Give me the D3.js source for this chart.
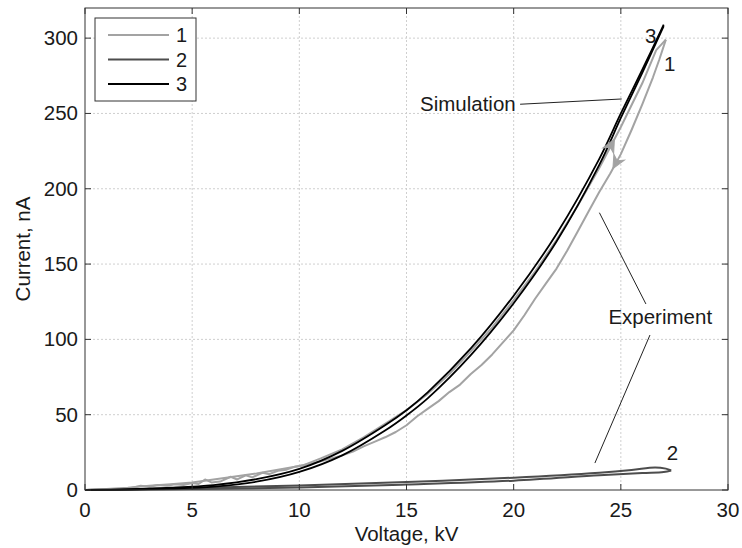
<!DOCTYPE html>
<html>
<head>
<meta charset="utf-8">
<script src="https://cdn.jsdelivr.net/npm/d3@7"></script>
<style>
  html, body { margin: 0; padding: 0; background: #fff; }
  svg text { font-family: "Liberation Sans", Arial, sans-serif; fill: #1a1a1a; }
</style>
</head>
<body>
<svg id="chart" width="742" height="548"></svg>
<script>
// ---- data ----
const xTicks = [0, 5, 10, 15, 20, 25, 30];
const yTicks = [0, 50, 100, 150, 200, 250, 300];

// curve 1: experiment, rising sweep [kV, nA]
const exp1Up = [[0,0],[1,0.3],[2,0.8],[2.6,2.8],[3,2.2],[3.4,3.3],[3.8,2.8],[4.2,3.8],[4.6,3.3],[5,4.6],
  [5.3,4.0],[5.6,7.0],[5.9,5.0],[6.3,5.6],[6.8,8.8],[7.1,7.0],[7.5,9.8],[7.8,8.4],[8.3,11.5],[8.6,10.5],
  [9,12.8],[9.4,13.5],[9.8,15.5],[10.2,16.5],[11,21],[12,27],[13,35],[14,44],[15,53],[16,64],[17,77],
  [18,92],[19,108],[20,126],[21,145],[22,166],[23,189],[24,214],[25,241],[26,270],[26.65,292],[27.1,299]];
// curve 1: experiment, falling sweep
const exp1Down = [[27.1,299],[26.8,286],[26.5,274],[26,256],[25.5,239],[25,223],[24.5,210],[24,198],
  [23.5,185],[23,172],[22.5,159],[22,147],[21.5,137],[21,127],[20.5,116],[20,106],[19.5,98],[19,90],
  [18.5,83],[18,77],[17.5,70],[17,65],[16.5,59],[16,54],[15.5,49],[15,43],[14.5,38.5],[14,35],[13.5,32],
  [13,29],[12.5,25.5],[12,23],[11,19],[10,16],[9,13.5],[8,11],[7,9],[6,7],[5,5],[4,3.8],[3,2.8],[2,1.5],[1,0.6],[0,0]];
// curve 2: experiment, second electrode
const exp2Up = [[0,0],[5,1.3],[10,3],[15,5.3],[20,8.2],[24,11.5],[25.5,13.3],[26.6,15],[27.1,14.2],[27.35,13]];
const exp2Down = [[27.35,13],[27,12],[26,11.3],[24,9.8],[20,6.2],[15,3.6],[10,1.6],[5,0.6],[0,0]];
// curve 3: simulation
const sim3Up = [[0,0],[2,0.5],[4,1.5],[6,3.3],[8,7.2],[10,14],[12,26],[14,43],[15,53],[16,65],[18,94],
  [20,129],[22,170],[24,220],[25,250],[26,279],[27,309]];
const sim3Down = [[0,0],[2,0.3],[4,1.0],[6,2.3],[8,5.5],[10,12],[12,23],[14,39.5],[15,49.5],[16,61],
  [18,89.5],[20,124],[22,165],[24,216],[25,247],[26,277],[27,308]];

const legendLabels = ['1', '2', '3'];
const seriesColors = ['#a3a3a3', '#4d4d4d', '#000000'];

// direction arrows on curve 1 (voltage where the arrow tip sits)
const arrowMarks = [{ branch: exp1Up, v: 24.7 }, { branch: exp1Down, v: 24.63 }];

// annotations in data units
const curveLabels = [
  { text: '3', v: 26.13, i: 296.8 },
  { text: '1', v: 27.01, i: 278.4 },
  { text: '2', v: 27.14, i: 19.9 }
];
const noteLabels = [
  { text: 'Simulation', v: 15.63, i: 251.8 },
  { text: 'Experiment', v: 24.42, i: 110.2 }
];
const leaders = [
  [[20.3, 256.1], [25.04, 259.6]],
  [[26.17, 123.5], [24.0, 184.1]],
  [[26.36, 102.9], [23.79, 17.9]]
];

// ---- layout ----
const W = 742, H = 548;
const margin = { top: 8, right: 14, bottom: 58, left: 85 };
const svg = d3.select('#chart');

const x = d3.scaleLinear().domain([0, 30]).range([margin.left, W - margin.right]);
const y = d3.scaleLinear().domain([0, 320]).range([H - margin.bottom, margin.top]);
const x0 = x.range()[0], x1 = x.range()[1], y0 = y.range()[0], y1 = y.range()[1];

// grid
const grid = svg.append('g').attr('stroke', '#cfcfcf').attr('stroke-width', 1).attr('stroke-dasharray', '2,2');
xTicks.filter(t => t > 0 && t < 30).forEach(t => {
  grid.append('line').attr('x1', x(t)).attr('x2', x(t)).attr('y1', y0).attr('y2', y1);
});
yTicks.filter(t => t > 0).forEach(t => {
  grid.append('line').attr('x1', x0).attr('x2', x1).attr('y1', y(t)).attr('y2', y(t));
});

// curves
const line = d3.line().x(d => x(d[0])).y(d => y(d[1]));
const smooth = d3.line().x(d => x(d[0])).y(d => y(d[1])).curve(d3.curveCatmullRom.alpha(0.5));

[exp2Up, exp2Down].forEach(b => {
  svg.append('path').datum(b).attr('d', smooth).attr('fill', 'none')
    .attr('stroke', seriesColors[1]).attr('stroke-width', 2);
});
[exp1Up, exp1Down].forEach(b => {
  svg.append('path').datum(b).attr('d', line).attr('fill', 'none')
    .attr('stroke', seriesColors[0]).attr('stroke-width', 2).attr('stroke-linejoin', 'round');
});
[sim3Up, sim3Down].forEach(b => {
  svg.append('path').datum(b).attr('d', smooth).attr('fill', 'none')
    .attr('stroke', seriesColors[2]).attr('stroke-width', 1.8);
});

// arrows along curve 1
function pointAt(branch, v) {
  for (let k = 0; k < branch.length - 1; k++) {
    const a = branch[k], b = branch[k + 1];
    if ((v - a[0]) * (v - b[0]) <= 0 && a[0] !== b[0]) {
      const t = (v - a[0]) / (b[0] - a[0]);
      return { px: x(a[0] + t * (b[0] - a[0])), py: y(a[1] + t * (b[1] - a[1])),
               ang: Math.atan2(y(b[1]) - y(a[1]), x(b[0]) - x(a[0])) };
    }
  }
  return null;
}
arrowMarks.forEach(m => {
  const p = pointAt(m.branch, m.v);
  if (!p) return;
  const deg = p.ang * 180 / Math.PI;
  svg.append('path')
    .attr('d', 'M0,0 L-13,-6 L-9,0 L-13,6 Z')
    .attr('transform', `translate(${p.px},${p.py}) rotate(${deg})`)
    .attr('fill', seriesColors[0]).attr('stroke', seriesColors[0]).attr('stroke-width', 1);
});

// axes box + ticks on all sides (inward)
svg.append('rect').attr('x', x0).attr('y', y1).attr('width', x1 - x0).attr('height', y0 - y1)
  .attr('fill', 'none').attr('stroke', '#333').attr('stroke-width', 1);
const tk = svg.append('g').attr('stroke', '#333').attr('stroke-width', 1);
xTicks.forEach(t => {
  tk.append('line').attr('x1', x(t)).attr('x2', x(t)).attr('y1', y0).attr('y2', y0 - 6);
  tk.append('line').attr('x1', x(t)).attr('x2', x(t)).attr('y1', y1).attr('y2', y1 + 6);
});
yTicks.forEach(t => {
  tk.append('line').attr('x1', x0).attr('x2', x0 + 6).attr('y1', y(t)).attr('y2', y(t));
  tk.append('line').attr('x1', x1).attr('x2', x1 - 6).attr('y1', y(t)).attr('y2', y(t));
});

// tick labels
svg.append('g').selectAll('text').data(xTicks).join('text')
  .attr('x', d => x(d)).attr('y', y0 + 27).attr('text-anchor', 'middle')
  .style('font-size', '20.5px').text(d => d);
svg.append('g').selectAll('text').data(yTicks).join('text')
  .attr('x', x0 - 7).attr('y', d => y(d) + 7).attr('text-anchor', 'end')
  .style('font-size', '20.5px').text(d => d);

// axis titles
svg.append('text').attr('x', (x0 + x1) / 2).attr('y', 541).attr('text-anchor', 'middle')
  .style('font-size', '20.5px').text('Voltage, kV');
svg.append('text').attr('transform', `translate(30,${(y0 + y1) / 2}) rotate(-90)`)
  .attr('text-anchor', 'middle').style('font-size', '20.5px').text('Current, nA');

// annotations
leaders.forEach(l => {
  svg.append('line').attr('x1', x(l[0][0])).attr('y1', y(l[0][1]))
    .attr('x2', x(l[1][0])).attr('y2', y(l[1][1]))
    .attr('stroke', '#222').attr('stroke-width', 1);
});
noteLabels.forEach(n => {
  svg.append('text').attr('x', x(n.v)).attr('y', y(n.i)).style('font-size', '20.5px').text(n.text);
});
curveLabels.forEach(n => {
  svg.append('text').attr('x', x(n.v)).attr('y', y(n.i)).style('font-size', '20.5px').text(n.text);
});

// legend
const lg = svg.append('g').attr('transform', 'translate(95,18)');
lg.append('rect').attr('width', 101).attr('height', 83)
  .attr('fill', '#fff').attr('stroke', '#333').attr('stroke-width', 1);
legendLabels.forEach((lab, k) => {
  const ly = 17 + k * 24.5;
  lg.append('line').attr('x1', 13).attr('x2', 74).attr('y1', ly).attr('y2', ly)
    .attr('stroke', seriesColors[k]).attr('stroke-width', 2);
  lg.append('text').attr('x', 81).attr('y', ly + 7).style('font-size', '20px').text(lab);
});
</script>
</body>
</html>
